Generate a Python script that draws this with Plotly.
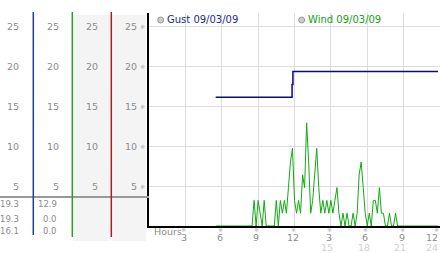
import plotly.graph_objects as go

W, H = 442, 253

# ---------------- data ----------------
y_ticks = [5, 10, 15, 20, 25]
hour_ticks = [3, 6, 9, 12, 15, 18, 21, 24]
hour_labels_top = ["3", "6", "9", "12", "3", "6", "9", "12"]
hour_labels_bottom = ["", "", "", "", "15", "18", "21", "24"]

gust_hours = [5.5, 11.8, 11.87, 23.83]
gust_values = [16.1, 17.7, 19.3, 19.3]

wind_start = 5.5
wind_step = 1 / 6
wind = [0, 0, 0, 0, 0, 0, 0, 0, 0, 0, 0, 0, 0, 0, 0, 0, 0, 0, 0,
        3.2, 0, 3.2, 1.6, 0, 3.2, 0, 0, 0, 0, 0,
        3.2, 0, 3.2, 1.6, 3.2, 1.6, 4.8, 8.0, 9.7, 3.2,
        1.6, 3.2, 1.6, 6.4, 4.8, 12.9, 8.0, 1.6, 3.2, 6.4,
        9.7, 4.8, 1.6, 3.2, 1.6, 3.2, 1.6, 3.2, 1.6, 3.2,
        4.8, 1.6, 0, 1.6, 0, 1.6, 0, 0, 1.6, 0,
        1.6, 6.4, 8.0, 4.8, 1.6, 0, 1.6, 0, 3.2, 3.2,
        1.6, 4.8, 1.6, 1.6, 0, 0, 1.6, 0, 0, 1.6,
        0, 0, 0, 0, 0, 0, 0, 0, 0, 0, 0, 0, 0, 0, 0, 0, 0, 0, 0, 0, 0]
wind_hours = [wind_start + i * wind_step for i in range(len(wind))]

gust_stats = ["19.3", "19.3", "16.1"]
wind_stats = ["12.9", "0.0", "0.0"]

legend_gust = "Gust 09/03/09"
legend_wind = "Wind 09/03/09"

# ---------------- layout helpers ----------------
def px(x):
    return x / W

def py(y):
    return 1 - y / H

FONT = "DejaVu Sans"
GRAY = "#8c8c8c"

fig = go.Figure()

fig.add_trace(go.Scatter(x=gust_hours, y=gust_values, mode="lines",
                         line=dict(color="#0a0a80", width=1.5, shape="hv"),
                         hoverinfo="skip", showlegend=False))
fig.add_trace(go.Scatter(x=wind_hours, y=wind, mode="lines",
                         line=dict(color="#11aa11", width=1),
                         hoverinfo="skip", showlegend=False))

shapes = []
shapes.append(dict(type="rect", xref="paper", yref="paper", x0=px(73), x1=px(110.5),
                   y0=py(241), y1=py(15), fillcolor="#f4f4f4", line=dict(width=0), layer="below"))
shapes.append(dict(type="rect", xref="paper", yref="paper", x0=px(112), x1=px(146),
                   y0=py(241), y1=py(15), fillcolor="#f4f4f4", line=dict(width=0), layer="below"))
shapes.append(dict(type="line", xref="paper", yref="paper", x0=0, x1=px(149),
                   y0=py(197), y1=py(197), line=dict(color="#999999", width=2)))
for xx, col, yb in [(33.3, "#1c3c9c", 235), (72.3, "#2a9a2a", 237), (111.3, "#a82020", 237)]:
    shapes.append(dict(type="line", xref="paper", yref="paper", x0=px(xx), x1=px(xx),
                       y0=py(12), y1=py(yb), line=dict(color=col, width=1.5)))
for cx in [160.7, 301.7]:
    shapes.append(dict(type="circle", xref="paper", yref="paper",
                       x0=px(cx - 3), x1=px(cx + 3), y0=py(23), y1=py(17),
                       fillcolor="#cccccc", line=dict(color="#999999", width=1)))

ann = []
for right_x in [20.5, 60.5, 99.5, 138.5]:
    for t in y_ticks:
        ann.append(dict(x=px(right_x), y=t, xref="paper", yref="y", text=str(t),
                        showarrow=False, xanchor="right", yanchor="middle",
                        font=dict(family=FONT, size=9.5, color=GRAY)))
for t in y_ticks:
    ann.append(dict(x=px(147), y=t, xref="paper", yref="y", text="※",
                    showarrow=False, xanchor="right", yanchor="middle",
                    font=dict(family=FONT, size=6, color="#aaaaaa")))
for i, (g, w) in enumerate(zip(gust_stats, wind_stats)):
    yy = [204, 218.5, 231][i]
    ann.append(dict(x=px(20.5), y=py(yy), xref="paper", yref="paper", text=g,
                    showarrow=False, xanchor="right", yanchor="middle",
                    font=dict(family=FONT, size=8.5, color=GRAY)))
    ann.append(dict(x=px(59), y=py(yy), xref="paper", yref="paper", text=w,
                    showarrow=False, xanchor="right", yanchor="middle",
                    font=dict(family=FONT, size=8.5, color=GRAY)))
ann.append(dict(x=px(152), y=py(231), xref="paper", yref="paper", text="Hours",
                showarrow=False, xanchor="left", yanchor="middle",
                font=dict(family=FONT, size=9.5, color=GRAY)))
for h, top, bot in zip(hour_ticks, hour_labels_top, hour_labels_bottom):
    last = h == hour_ticks[-1]
    xa = "right" if last else "center"
    xpos = h - 0.02 if last else h - 0.15
    ann.append(dict(x=h - 0.3 if last else h - 0.12, y=py(229), xref="x", yref="paper", text="※",
                    showarrow=False, xanchor="center", yanchor="middle",
                    font=dict(family=FONT, size=6, color="#aaaaaa")))
    ann.append(dict(x=xpos, y=py(237), xref="x", yref="paper", text=top,
                    showarrow=False, xanchor=xa, yanchor="middle",
                    font=dict(family=FONT, size=9.5, color=GRAY)))
    if bot:
        ann.append(dict(x=xpos if last else h - 0.3, y=py(247), xref="x", yref="paper", text=bot,
                        showarrow=False, xanchor=xa, yanchor="middle",
                        font=dict(family=FONT, size=9.5, color="#d0d0d0")))
ann.append(dict(x=px(164.5), y=py(19.5), xref="paper", yref="paper", text=legend_gust,
                showarrow=False, xanchor="left", yanchor="middle",
                font=dict(family=FONT, size=10, color="#1a2a9a")))
ann.append(dict(x=px(305.5), y=py(19.5), xref="paper", yref="paper", text=legend_wind,
                showarrow=False, xanchor="left", yanchor="middle",
                font=dict(family=FONT, size=10, color="#15a015")))

fig.update_layout(
    width=W, height=H, margin=dict(l=0, r=0, t=0, b=0),
    paper_bgcolor="white", plot_bgcolor="white",
    shapes=shapes, annotations=ann, showlegend=False,
    xaxis=dict(domain=[px(149), px(440)], range=[0, 24], dtick=3, tick0=0,
               showgrid=True, gridcolor="#dddddd", gridwidth=1,
               showticklabels=False, ticks="", zeroline=False,
               showline=True, linecolor="black", linewidth=2, fixedrange=True),
    yaxis=dict(domain=[py(226), py(13)], range=[0, 26.625], dtick=5, tick0=0,
               showgrid=True, gridcolor="#dddddd", gridwidth=1,
               showticklabels=False, ticks="", zeroline=False,
               showline=True, linecolor="black", linewidth=2, fixedrange=True),
)

fig.write_html("out.html", config={"displayModeBar": False})
